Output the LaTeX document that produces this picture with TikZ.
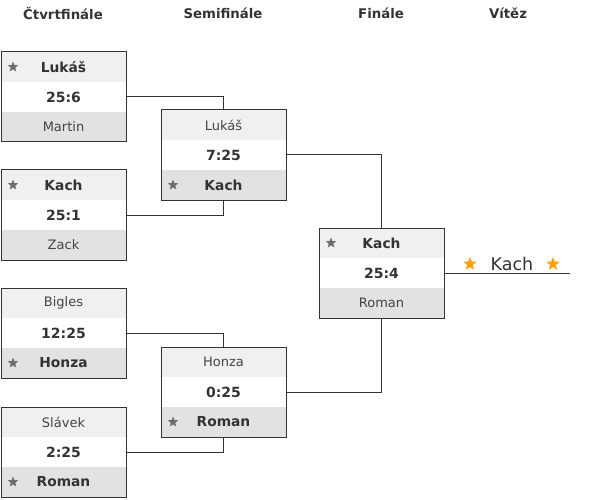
\documentclass[tikz,border=0pt]{standalone}
\usepackage{fontspec}
\setmainfont{DejaVu Sans}
\usetikzlibrary{fit,shapes.geometric}
\definecolor{rowtop}{HTML}{F0F0F2}
\definecolor{rowbot}{HTML}{E2E2E2}
\definecolor{ink}{HTML}{333333}
\definecolor{loser}{HTML}{444444}
\definecolor{stargray}{HTML}{6E6E6E}
\definecolor{gold}{HTML}{FFA200}
\tikzset{
  row/.style={minimum width=125pt, minimum height=30pt, inner sep=0pt, outer sep=0pt, anchor=north west, text=ink, font=\fontsize{13}{15}\selectfont},
  toprow/.style={row, fill=rowtop},
  midrow/.style={row, fill=white},
  botrow/.style={row, fill=rowbot},
  cardbox/.style={draw=ink, line width=1pt, inner sep=0pt, outer sep=0pt},
  starshape/.style={star, star points=5, star point ratio=2.3, inner sep=0pt, draw=none},
  wins/.style={font=\fontsize{13.8}{15}\selectfont\bfseries, text=ink, label={[starshape, fill=stargray, minimum size=11pt, anchor=center, xshift=12pt]west:{}}},
  loses/.style={font=\fontsize{13}{15}\selectfont, text=loser},
  conn/.style={draw=ink, line width=1pt},
  header/.style={font=\fontsize{13.3}{15}\selectfont\bfseries, text=ink},
}
\newcommand{\matchcard}[8]{%
  \node[toprow,#7] (#1t) at (#2,#3) {#4};
  \node[midrow,font=\fontsize{14}{15}\selectfont\bfseries] (#1m) at (#1t.south west) {#5};
  \node[botrow,#8] (#1b) at (#1m.south west) {#6};
  \node[cardbox, fit=(#1t)(#1b)] (#1) {};
}
\begin{document}
\begin{tikzpicture}[x=1pt,y=-1pt]
\useasboundingbox[fill=white] (0,0) rectangle (600,500);
% headers
\node[header] (h1) at (63,13) {Čtvrtfinále};
\node[header] (h2) at (223,13) {Semifinále};
\node[header] (h3) at (381,13) {Finále};
\node[header] (h4) at (508,13) {Vítěz};
% quarterfinals
\matchcard{qa}{1}{52}{Lukáš}{25:6}{Martin}{wins}{loses}
\matchcard{qb}{1}{170}{Kach}{25:1}{Zack}{wins}{loses}
\matchcard{qc}{1}{288}{Bigles}{12:25}{Honza}{loses}{wins}
\matchcard{qd}{1}{407}{Slávek}{2:25}{Roman}{loses}{wins}
% semifinals
\matchcard{sa}{161}{110}{Lukáš}{7:25}{Kach}{loses}{wins}
\matchcard{sb}{161}{347}{Honza}{0:25}{Roman}{loses}{wins}
% final
\matchcard{fa}{319}{228}{Kach}{25:4}{Roman}{wins}{loses}
% connectors
\draw[conn] (qa.east) -| (sa.north);
\draw[conn] (qb.east) -| (sa.south);
\draw[conn] (qc.east) -| (sb.north);
\draw[conn] (qd.east) -| (sb.south);
\draw[conn] (sa.east) -| (fa.north);
\draw[conn] (sb.east) -| (fa.south);
% winner
\coordinate (wend) at (570,273);
\draw[conn] (fa.east) -- (wend);
\node[font=\fontsize{17.5}{19}\selectfont, text=ink] (champ) at (512,264) {Kach};
\node[starshape, fill=gold, minimum size=14pt] (sl) at (470,264) {};
\node[starshape, fill=gold, minimum size=14pt] (sr) at (553,264) {};
\end{tikzpicture}
\end{document}
